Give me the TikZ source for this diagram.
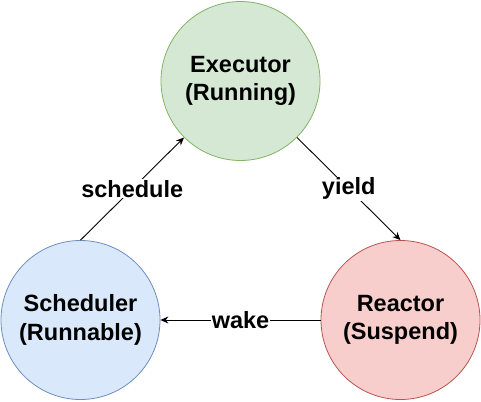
\documentclass[tikz,border=0pt]{standalone}
\usepackage{fontspec}
\setmainfont{Liberation Sans}
\usetikzlibrary{arrows.meta}
\definecolor{gfill}{HTML}{D5E8D4}\definecolor{gline}{HTML}{82B366}
\definecolor{bfill}{HTML}{DAE8FC}\definecolor{bline}{HTML}{6C8EBF}
\definecolor{rfill}{HTML}{F8CECC}\definecolor{rline}{HTML}{B85450}
\begin{document}
\begin{tikzpicture}[x=1pt,y=-1pt,
  state/.style={circle,minimum size=159pt,inner sep=0pt,line width=0.8pt,align=center,
    font=\fontsize{23.5}{28.5}\selectfont\bfseries},
  conn/.style={line width=0.9pt,-{Stealth[length=8pt,width=7pt]}},
  lab/.style={fill=white,inner sep=1pt,font=\fontsize{23.5}{28}\selectfont\bfseries}]
\useasboundingbox (0,0) rectangle (481,401);
\node[state,fill=gfill,draw=gline] (ex) at (240.5,81) {Executor\\(Running)};
\node[state,fill=bfill,draw=bline] (sc) at (80.5,320) {Scheduler\\(Runnable)};
\node[state,fill=rfill,draw=rline] (re) at (400.5,320) {Reactor\\(Suspend)};
\draw[conn] (sc.north) -- node[lab]{schedule} (ex.225);
\draw[conn] (ex.315) -- node[lab]{yield} (re.north);
\draw[conn] (re.west) -- node[lab]{wake} (sc.east);
\end{tikzpicture}
\end{document}
